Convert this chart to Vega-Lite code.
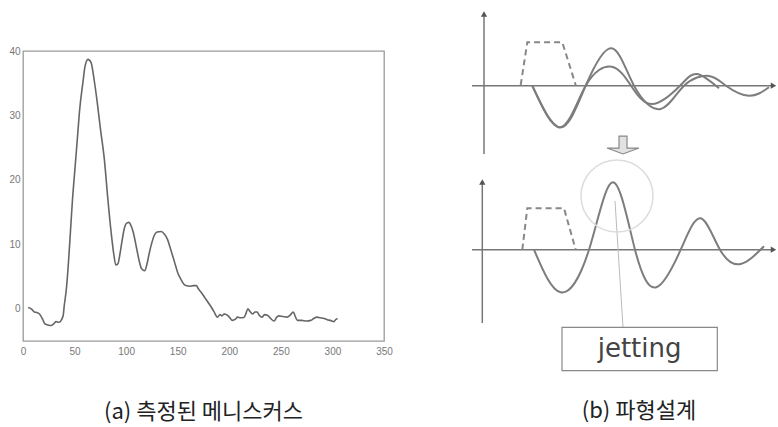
{
  "$schema": "https://vega.github.io/schema/vega-lite/v6.json",
  "padding": {"left": 8, "top": 11, "right": 0, "bottom": 0},
  "background": "white",
  "config": {"view": {"stroke": null}, "font": "Liberation Sans"},
  "bounds": "flush",
  "spacing": 88,
  "datasets": {
    "measured": [
      {"t":5,"v":0.2},{"t":8,"v":0},{"t":11,"v":-0.5},{"t":14,"v":-0.6},{"t":16,"v":-0.8},{"t":19,"v":-1.6},{"t":21,"v":-2.3},{"t":24,"v":-2.5},{"t":27,"v":-2.6},{"t":30,"v":-2.3},{"t":32,"v":-2.0},{"t":35,"v":-2.1},{"t":37,"v":-1.8},{"t":39,"v":-1.0},{"t":40,"v":0.5},{"t":42,"v":3},{"t":44,"v":7},{"t":46,"v":12},{"t":48,"v":17},{"t":50,"v":21},{"t":53,"v":27},{"t":55,"v":31},{"t":58,"v":35},{"t":60,"v":37.5},{"t":63,"v":38.7},{"t":66,"v":38.2},{"t":69,"v":35.5},{"t":72,"v":32},{"t":75,"v":28},{"t":79,"v":23},{"t":82,"v":17.5},{"t":85.5,"v":11.8},{"t":88,"v":8.5},{"t":90,"v":6.8},{"t":92,"v":7},{"t":94,"v":8.5},{"t":96,"v":10.5},{"t":98,"v":12.3},{"t":100,"v":13.2},{"t":102.5,"v":13.4},{"t":105,"v":12.8},{"t":107,"v":11.8},{"t":110,"v":9.5},{"t":113,"v":7.2},{"t":115,"v":6.2},{"t":118,"v":5.9},{"t":120,"v":6.8},{"t":122.5,"v":8.7},{"t":125,"v":10.3},{"t":127,"v":11.3},{"t":130,"v":11.9},{"t":134,"v":12},{"t":137,"v":11.6},{"t":140,"v":10.8},{"t":143,"v":9.3},{"t":147,"v":7.2},{"t":150,"v":5.6},{"t":153,"v":4.6},{"t":156,"v":3.8},{"t":158,"v":3.6},{"t":162,"v":3.5},{"t":165,"v":3.6},{"t":168,"v":3.6},{"t":170,"v":3.1},{"t":172.5,"v":2.6},{"t":176,"v":1.8},{"t":179,"v":1.1},{"t":182,"v":0.4},{"t":185,"v":-0.4},{"t":188.5,"v":-1.3},{"t":191,"v":-0.9},{"t":193,"v":-1.1},{"t":195,"v":-0.8},{"t":198,"v":-1.0},{"t":200,"v":-1.3},{"t":203,"v":-1.8},{"t":206,"v":-1.6},{"t":208,"v":-1.3},{"t":211,"v":-1.4},{"t":214.5,"v":-1.3},{"t":216,"v":-0.8},{"t":218,"v":0},{"t":220,"v":-0.4},{"t":222.5,"v":-0.8},{"t":225,"v":-0.5},{"t":227,"v":-0.5},{"t":229,"v":-1.0},{"t":232,"v":-1.3},{"t":234,"v":-0.9},{"t":237,"v":-1.0},{"t":240,"v":-1.5},{"t":243.5,"v":-1.9},{"t":246,"v":-1.3},{"t":248,"v":-1.1},{"t":252,"v":-1.2},{"t":256,"v":-1.3},{"t":259,"v":-1.0},{"t":262,"v":-0.5},{"t":264,"v":-1.2},{"t":266,"v":-1.8},{"t":270,"v":-1.8},{"t":275,"v":-1.9},{"t":279,"v":-1.8},{"t":282,"v":-1.5},{"t":285,"v":-1.3},{"t":288,"v":-1.4},{"t":292,"v":-1.5},{"t":295,"v":-1.7},{"t":298,"v":-1.8},{"t":301.5,"v":-2.0},{"t":303,"v":-1.7},{"t":305,"v":-1.5}
    ],
    "axes": [
      {"x":12,"x2":12,"y":217,"y2":356},
      {"x":0,"x2":301,"y":285.3,"y2":285.3},
      {"x":10.3,"x2":10.3,"y":48,"y2":188},
      {"x":0,"x2":301,"y":121.3,"y2":121.3}
    ],
    "arrows": [
      {"x":12,"y":357,"dir":"up"},
      {"x":10.3,"y":189,"dir":"up"},
      {"x":301.5,"y":285.3,"dir":"right"},
      {"x":301.5,"y":121.3,"dir":"right"}
    ],
    "pulses": [
      {"id":"p1","x":48.7,"y":286},{"id":"p1","x":55.3,"y":328.7},{"id":"p1","x":90.3,"y":328.7},{"id":"p1","x":103.7,"y":286},
      {"id":"p2","x":50.3,"y":121.3},{"id":"p2","x":55.3,"y":162.7},{"id":"p2","x":92,"y":162.7},{"id":"p2","x":103.7,"y":121.3}
    ],
    "waves": [
      {"id":"a","x":60.3,"y":285.3},{"id":"a","x":88.7,"y":243.7},{"id":"a","x":113.7,"y":285.3},{"id":"a","x":139.7,"y":322.7},{"id":"a","x":162,"y":285.3},{"id":"a","x":188.7,"y":262},{"id":"a","x":212,"y":285.3},{"id":"a","x":237,"y":295},{"id":"a","x":254,"y":285.3},{"id":"a","x":277,"y":275.3},{"id":"a","x":297,"y":283.7},
      {"id":"b","x":60.3,"y":285.3},{"id":"b","x":88.7,"y":243.7},{"id":"b","x":113.7,"y":285.3},{"id":"b","x":139.7,"y":304.3},{"id":"b","x":159,"y":285.3},{"id":"b","x":180.3,"y":267},{"id":"b","x":208,"y":285.3},{"id":"b","x":225.3,"y":297},{"id":"b","x":247,"y":282.7},
      {"id":"c","x":62,"y":121.3},{"id":"c","x":88.7,"y":78.7},{"id":"c","x":117,"y":121.3},{"id":"c","x":141,"y":188.7},{"id":"c","x":163,"y":121.3},{"id":"c","x":184.3,"y":83.7},{"id":"c","x":208.7,"y":121.3},{"id":"c","x":228.7,"y":152.7},{"id":"c","x":248,"y":121.3},{"id":"c","x":268.7,"y":107},{"id":"c","x":292,"y":124.7}
    ],
    "pointer": [{"x":151,"y":44,"x2":143,"y2":170}],
    "halo": [{"x":145,"y":175}],
    "downarrow": [{"x":151,"y":226}],
    "box": [{"x":90,"x2":245.3,"y":0.3,"y2":43.7,"cx":167.6,"cy":22,"label":"jetting"}]
  },
  "hconcat": [
    {
      "width": 361,
      "height": 290,
      "view": {"stroke": "#9a9a9a", "strokeWidth": 1.3},
      "title": {"text": "(a) 측정된 메니스커스", "orient": "bottom", "anchor": "middle", "frame": "group", "offset": 46, "baseline": "top", "font": "Noto Sans CJK KR", "fontSize": 22, "fontWeight": "normal", "color": "#222"},
      "data": {"name": "measured"},
      "mark": {"type": "line", "interpolate": "monotone", "color": "#666", "strokeWidth": 1.6},
      "encoding": {
        "x": {"field": "t", "type": "quantitative", "scale": {"domain": [0, 350], "nice": false, "zero": false},
          "axis": {"values": [0, 50, 100, 150, 200, 250, 300, 350], "grid": false, "ticks": false, "domain": false, "labelPadding": 5, "labelFontSize": 10, "labelColor": "#777", "labelFlush": false, "title": null}},
        "y": {"field": "v", "type": "quantitative", "scale": {"domain": [-5, 40], "nice": false, "zero": false},
          "axis": {"values": [0, 10, 20, 30, 40], "grid": false, "ticks": false, "domain": false, "labelPadding": 3, "labelFontSize": 10, "labelColor": "#777", "labelFlush": false, "title": null}}
      }
    },
    {
      "width": 305,
      "height": 320,
      "title": {"text": "(b) 파형설계", "orient": "bottom", "anchor": "middle", "frame": "group", "offset": 30, "dx": 14.5, "baseline": "top", "font": "Noto Sans CJK KR", "fontSize": 22, "fontWeight": "normal", "color": "#222"},
      "layer": [
        {
          "data": {"name": "axes"},
          "mark": {"type": "rule", "color": "#777", "strokeWidth": 1.5},
          "encoding": {
            "x": {"field": "x", "type": "quantitative", "scale": {"domain": [0, 305], "nice": false, "zero": false}, "axis": null},
            "x2": {"field": "x2"},
            "y": {"field": "y", "type": "quantitative", "scale": {"domain": [0, 320], "nice": false, "zero": false}, "axis": null},
            "y2": {"field": "y2"}
          }
        },
        {
          "data": {"name": "arrows"},
          "mark": {"type": "point", "filled": true, "color": "#555", "size": 40, "opacity": 1},
          "encoding": {
            "x": {"field": "x", "type": "quantitative", "scale": {"domain": [0, 305], "nice": false, "zero": false}, "axis": null},
            "y": {"field": "y", "type": "quantitative", "scale": {"domain": [0, 320], "nice": false, "zero": false}, "axis": null},
            "shape": {"field": "dir", "type": "nominal", "scale": {"domain": ["up", "right"], "range": ["triangle-up", "triangle-right"]}, "legend": null}
          }
        },
        {
          "data": {"name": "pulses"},
          "mark": {"type": "line", "color": "#888", "strokeWidth": 2, "strokeDash": [6, 4]},
          "encoding": {
            "x": {"field": "x", "type": "quantitative", "scale": {"domain": [0, 305], "nice": false, "zero": false}, "axis": null},
            "y": {"field": "y", "type": "quantitative", "scale": {"domain": [0, 320], "nice": false, "zero": false}, "axis": null},
            "detail": {"field": "id", "type": "nominal"}
          }
        },
        {
          "data": {"name": "waves"},
          "mark": {"type": "line", "interpolate": "natural", "color": "#7d7d7d", "strokeWidth": 2},
          "encoding": {
            "x": {"field": "x", "type": "quantitative", "scale": {"domain": [0, 305], "nice": false, "zero": false}, "axis": null},
            "y": {"field": "y", "type": "quantitative", "scale": {"domain": [0, 320], "nice": false, "zero": false}, "axis": null},
            "detail": {"field": "id", "type": "nominal"}
          }
        },
        {
          "data": {"name": "pointer"},
          "mark": {"type": "rule", "color": "#bbb", "strokeWidth": 1},
          "encoding": {
            "x": {"field": "x", "type": "quantitative", "scale": {"domain": [0, 305], "nice": false, "zero": false}, "axis": null},
            "x2": {"field": "x2"},
            "y": {"field": "y", "type": "quantitative", "scale": {"domain": [0, 320], "nice": false, "zero": false}, "axis": null},
            "y2": {"field": "y2"}
          }
        },
        {
          "data": {"name": "halo"},
          "mark": {"type": "point", "filled": false, "color": "#dcdcdc", "size": 5184, "strokeWidth": 1.5, "opacity": 1},
          "encoding": {
            "x": {"field": "x", "type": "quantitative", "scale": {"domain": [0, 305], "nice": false, "zero": false}, "axis": null},
            "y": {"field": "y", "type": "quantitative", "scale": {"domain": [0, 320], "nice": false, "zero": false}, "axis": null}
          }
        },
        {
          "data": {"name": "downarrow"},
          "mark": {"type": "point", "filled": true, "fill": "#e2e2e2", "stroke": "#888", "strokeWidth": 1.2, "size": 1024, "opacity": 1,
            "shape": "M-0.25,-0.56 L0.25,-0.56 L0.25,0.19 L1,0.19 L0,0.56 L-1,0.19 L-0.25,0.19 Z"},
          "encoding": {
            "x": {"field": "x", "type": "quantitative", "scale": {"domain": [0, 305], "nice": false, "zero": false}, "axis": null},
            "y": {"field": "y", "type": "quantitative", "scale": {"domain": [0, 320], "nice": false, "zero": false}, "axis": null}
          }
        },
        {
          "data": {"name": "box"},
          "mark": {"type": "rect", "fill": "white", "stroke": "#888", "strokeWidth": 1.2},
          "encoding": {
            "x": {"field": "x", "type": "quantitative", "scale": {"domain": [0, 305], "nice": false, "zero": false}, "axis": null},
            "x2": {"field": "x2"},
            "y": {"field": "y", "type": "quantitative", "scale": {"domain": [0, 320], "nice": false, "zero": false}, "axis": null},
            "y2": {"field": "y2"}
          }
        },
        {
          "data": {"name": "box"},
          "mark": {"type": "text", "font": "DejaVu Sans", "fontSize": 26, "color": "#444", "align": "center", "baseline": "middle"},
          "encoding": {
            "x": {"field": "cx", "type": "quantitative", "scale": {"domain": [0, 305], "nice": false, "zero": false}, "axis": null},
            "y": {"field": "cy", "type": "quantitative", "scale": {"domain": [0, 320], "nice": false, "zero": false}, "axis": null},
            "text": {"field": "label"}
          }
        }
      ]
    }
  ]
}
